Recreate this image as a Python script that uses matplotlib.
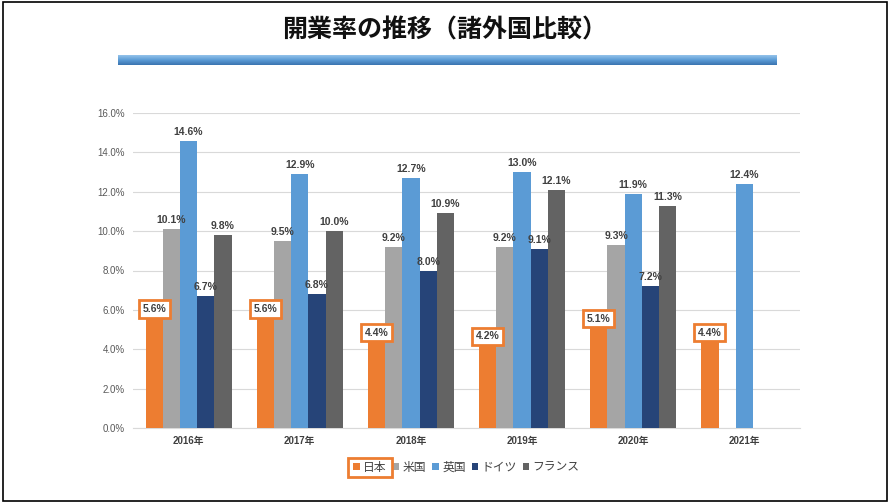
import numpy as np
import matplotlib
matplotlib.use("Agg")
import matplotlib.pyplot as plt
from matplotlib.patches import Rectangle
from matplotlib.colors import LinearSegmentedColormap

plt.rcParams['font.family'] = ['Noto Sans CJK JP', 'DejaVu Sans']
NUMFONT = ['Liberation Sans', 'Noto Sans CJK JP', 'DejaVu Sans']

years = ["2016年", "2017年", "2018年", "2019年", "2020年", "2021年"]
series_names = ["日本", "米国", "英国", "ドイツ", "フランス"]
japan = [5.6, 5.6, 4.4, 4.2, 5.1, 4.4]
usa = [10.1, 9.5, 9.2, 9.2, 9.3, np.nan]
uk = [14.6, 12.9, 12.7, 13.0, 11.9, 12.4]
germany = [6.7, 6.8, 8.0, 9.1, 7.2, np.nan]
france = [9.8, 10.0, 10.9, 12.1, 11.3, np.nan]
yticks = [0, 2, 4, 6, 8, 10, 12, 14, 16]

colors = ["#ED7D31", "#A5A5A5", "#5B9BD5", "#264478", "#636363"]
all_series = [japan, usa, uk, germany, france]

fig = plt.figure(figsize=(8.9, 5.03), dpi=100)
fig.patch.set_facecolor("white")

# outer border
fig.add_artist(Rectangle((0.003, 0.004), 0.994, 0.992, transform=fig.transFigure,
                         fill=False, edgecolor="black", linewidth=1.2))

# title
fig.text(0.5, 0.94, "開業率の推移（諸外国比較）", ha="center", va="center",
         fontsize=18, fontweight="bold", color="#111111")

# gradient bar
gax = fig.add_axes([118/890, (503-65)/503, (776-118)/890, 10/503])
grad = np.linspace(0, 1, 50).reshape(-1, 1)
cmap = LinearSegmentedColormap.from_list("g", ["#94C3EA", "#5B9BD5", "#3A74B0"])
gax.imshow(grad, aspect="auto", cmap=cmap, extent=[0, 1, 0, 1])
gax.axis("off")

ax = fig.add_axes([133/890, 75/503, 667/890, 315/503])
x = np.arange(len(years))
w = 0.155
for i, (vals, c) in enumerate(zip(all_series, colors)):
    pos = x + (i - 2) * w
    v = np.array(vals, dtype=float)
    ax.bar(pos, np.nan_to_num(v, nan=0.0), width=w, color=c, label=series_names[i], zorder=3)
    for p, val in zip(pos, v):
        if np.isnan(val):
            continue
        if i == 0:
            ax.text(p, val + 0.45, f"{val:.1f}%", ha="center", va="center", fontsize=7.5,
                    fontweight="bold", color="#404040", zorder=5, family=NUMFONT,
                    bbox=dict(boxstyle="square,pad=0.35", facecolor="white",
                              edgecolor="#ED7D31", linewidth=2))
        else:
            ax.text(p, val + 0.2, f"{val:.1f}%", ha="center", va="bottom", fontsize=7.5,
                    fontweight="bold", color="#404040", zorder=5, family=NUMFONT)

ax.set_ylim(0, 16)
ax.set_xlim(-0.5, len(years) - 0.5)
ax.set_yticks(yticks)
ax.set_yticklabels([f"{t:.1f}%" for t in yticks], fontsize=7, color="#595959", family=NUMFONT)
ax.set_xticks(x)
ax.set_xticklabels(years, fontsize=7, fontweight="bold", color="#404040", family=NUMFONT)
ax.tick_params(length=0, pad=6)
ax.grid(axis="y", color="#D9D9D9", linewidth=0.8, zorder=0)
for s in ["top", "right", "left"]:
    ax.spines[s].set_visible(False)
ax.spines["bottom"].set_color("#D9D9D9")

leg = ax.legend(loc="center", bbox_to_anchor=(0.5, -0.125), ncol=5, frameon=False,
                fontsize=8.5, handlelength=0.55, handleheight=0.55, handletextpad=0.3,
                columnspacing=0.5, labelcolor="#404040")

fig.canvas.draw()
r = fig.canvas.get_renderer()
h = leg.legend_handles[0].get_window_extent(r)
t = leg.get_texts()[0].get_window_extent(r)
x0 = min(h.x0, t.x0) - 5
x1 = max(h.x1, t.x1) + 5
y0 = min(h.y0, t.y0) - 3
y1 = max(h.y1, t.y1) + 3
fw, fh = fig.bbox.width, fig.bbox.height
fig.add_artist(Rectangle((x0/fw, y0/fh), (x1-x0)/fw, (y1-y0)/fh, transform=fig.transFigure,
                         fill=False, edgecolor="#ED7D31", linewidth=2))

fig.savefig("out.png", dpi=100)
